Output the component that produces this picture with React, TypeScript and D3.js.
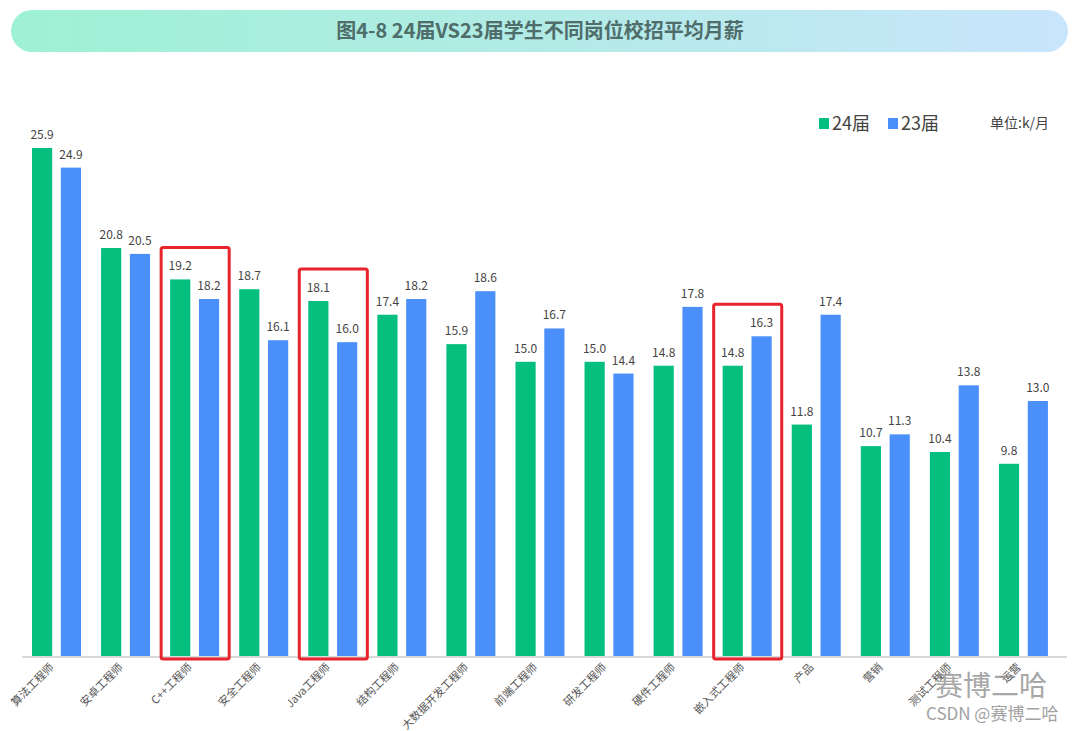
import * as d3 from 'd3'
import React from 'react'

const categories = [
  '算法工程师', '安卓工程师', 'C++工程师', '安全工程师', 'Java工程师',
  '结构工程师', '大数据开发工程师', '前端工程师', '研发工程师', '硬件工程师',
  '嵌入式工程师', '产品', '营销', '测试工程师', '运营',
]
const values24 = [25.9, 20.8, 19.2, 18.7, 18.1, 17.4, 15.9, 15.0, 15.0, 14.8, 14.8, 11.8, 10.7, 10.4, 9.8]
const values23 = [24.9, 20.5, 18.2, 16.1, 16.0, 18.2, 18.6, 16.7, 14.4, 17.8, 16.3, 17.4, 11.3, 13.8, 13.0]
const seriesNames = ['24届', '23届']
const highlighted = ['C++工程师', 'Java工程师', '嵌入式工程师']

const WIDTH = 1080
const HEIGHT = 731
const BASE_Y = 656
const FONT = '"Noto Sans CJK SC", "Noto Sans", sans-serif'
const COLORS = { '24届': '#05bf7e', '23届': '#4b90fa' }

const App = () => {
  const x0 = d3.scaleBand().domain(categories).range([22, 1058]).paddingInner(0)
  const x1 = d3.scaleBand().domain(seriesNames).range([10, 59]).paddingInner(0.3)
  const y = d3.scaleLinear().domain([0, 25.9]).range([BASE_Y, 148])

  const rows = categories.map((c, i) => ({ label: c, '24届': values24[i], '23届': values23[i] }))

  return (
    <svg width={WIDTH} height={HEIGHT} style={{ display: 'block', position: 'absolute', left: 0, top: 0 }}>
      <defs>
        <linearGradient id="titleGrad" x1="0" x2="1" y1="0" y2="0">
          <stop offset="0%" stopColor="#9ef1d4" />
          <stop offset="50%" stopColor="#b2ebe6" />
          <stop offset="100%" stopColor="#c9e5fc" />
        </linearGradient>
      </defs>
      <rect x={0} y={0} width={WIDTH} height={HEIGHT} fill="#ffffff" />

      {/* title pill */}
      <rect x={11} y={10} width={1057} height={42} rx={21} fill="url(#titleGrad)" />
      <text x={540} y={38} textAnchor="middle" fontFamily={FONT} fontWeight="bold" fontSize={20} fill="#4f6d6a">
        图4-8 24届VS23届学生不同岗位校招平均月薪
      </text>

      {/* legend */}
      {seriesNames.map((s, i) => (
        <g key={s} transform={`translate(${819 + i * 69},0)`}>
          <rect x={0} y={118} width={10} height={11} fill={COLORS[s]} />
          <text x={13} y={130} fontFamily={FONT} fontSize={18} fill="#444">{s}</text>
        </g>
      ))}
      <text x={990} y={128} fontFamily={FONT} fontSize={14} fill="#444">单位:k/月</text>

      {/* axis line */}
      <line x1={22} x2={1067} y1={BASE_Y + 1} y2={BASE_Y + 1} stroke="#d9d9d9" strokeWidth={2} />

      {/* bars */}
      {rows.map(r => (
        <g key={r.label} transform={`translate(${x0(r.label)},0)`}>
          {seriesNames.map(s => (
            <g key={s}>
              <rect x={x1(s)} y={y(r[s])} width={x1.bandwidth()} height={BASE_Y - y(r[s])} fill={COLORS[s]} />
              <text
                x={x1(s) + x1.bandwidth() / 2}
                y={y(r[s]) - 9}
                textAnchor="middle"
                fontFamily={FONT}
                fontSize={12}
                fill="#444"
              >
                {r[s].toFixed(1)}
              </text>
            </g>
          ))}
        </g>
      ))}

      {/* highlight boxes */}
      {rows
        .filter(r => highlighted.includes(r.label))
        .map(r => {
          const top = y(Math.max(r['24届'], r['23届'])) - 32
          return (
            <rect
              key={r.label}
              x={x0(r.label) + 1}
              y={top}
              width={x0.bandwidth() - 1}
              height={BASE_Y + 3 - top}
              fill="none"
              stroke="#e8232b"
              strokeWidth={3}
              rx={2}
            />
          )
        })}

      {/* x labels */}
      {categories.map(c => (
        <text
          key={c}
          transform={`translate(${x0(c) + x0.bandwidth() / 2 - 2},${668}) rotate(-45)`}
          textAnchor="end"
          fontFamily={FONT}
          fontSize={11}
          fill="#555"
        >
          {c}
        </text>
      ))}

      {/* watermark */}
      <text x={935} y={696} fontFamily={FONT} fontSize={28} fill="#8a8a8a" opacity={0.75}>赛博二哈</text>
      <text x={926} y={720} fontFamily={FONT} fontSize={17} fill="#8a8a8a" opacity={0.8}>CSDN @赛博二哈</text>
    </svg>
  )
}

export default App
